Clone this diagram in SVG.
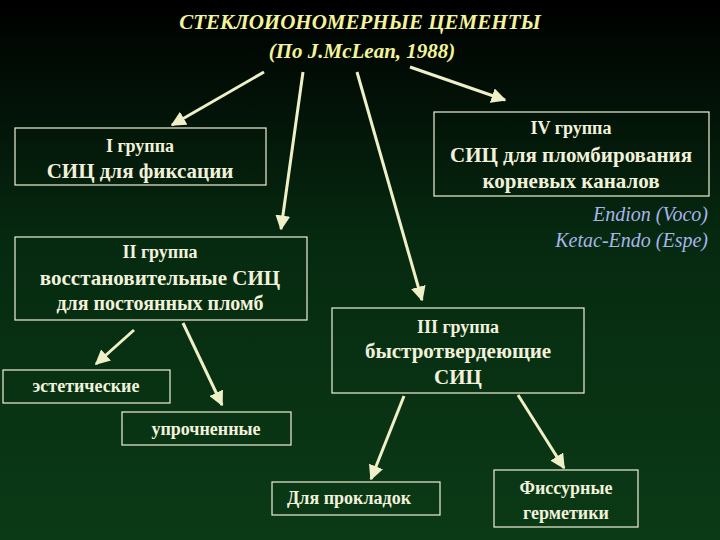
<svg xmlns="http://www.w3.org/2000/svg" width="720" height="540" viewBox="0 0 720 540" font-family="'Liberation Serif', 'Times New Roman', 'DejaVu Serif', serif">
<defs>
<linearGradient id="bg" x1="0" y1="0" x2="0" y2="1"><stop offset="0" stop-color="#000000"/><stop offset="0.45" stop-color="#062a10"/><stop offset="1" stop-color="#0b3a16"/></linearGradient>
<marker id="ah" viewBox="0 0 10 10" refX="9" refY="5" markerWidth="5" markerHeight="5" orient="auto"><path d="M0,0 L10,5 L0,10 z" fill="#f0f0c8"/></marker>
<style>
.b{fill:none;stroke:#f0f0d8;stroke-width:1.2}
.t{font-weight:bold;fill:#f2f2dc;text-anchor:middle}
.c line{stroke:#f0f0c8;stroke-width:3;marker-end:url(#ah)}
</style>
</defs>
<rect width="720" height="540" fill="url(#bg)"/>
<g id="title" class="t" style="font-style:italic;fill:#f4f49a;font-size:21px">
<text x="360" y="29">СТЕКЛОИОНОМЕРНЫЕ ЦЕМЕНТЫ</text>
<text x="362" y="58">(По J.McLean, 1988)</text>
</g>
<g class="c">
<line x1="264" y1="72" x2="172" y2="125"/>
<line x1="303" y1="72" x2="281" y2="229"/>
<line x1="357" y1="72" x2="422" y2="300"/>
<line x1="410" y1="67" x2="505" y2="100"/>
<line x1="134" y1="330" x2="96" y2="364"/>
<line x1="183" y1="323" x2="222" y2="405"/>
<line x1="404" y1="396" x2="371" y2="479"/>
<line x1="518" y1="395" x2="564" y2="468"/>
</g>
<g id="g1"><rect class="b" x="15" y="128" width="251" height="57"/>
<text class="t" x="140" y="152" font-size="18">I группа</text><text class="t" x="140" y="178" font-size="21">СИЦ для фиксации</text></g>
<g id="g4"><rect class="b" x="434" y="112" width="275" height="84"/>
<text class="t" x="571" y="134" font-size="18">IV группа</text><text class="t" x="571" y="162" font-size="21">СИЦ для пломбирования</text><text class="t" x="571" y="188" font-size="21">корневых каналов</text></g>
<g id="brands" class="t" style="font-style:italic;font-weight:normal;fill:#a9b4ec;font-size:20px;text-anchor:end">
<text x="708" y="221">Endion (Voco)</text><text x="708" y="247">Ketac-Endo (Espe)</text></g>
<g id="g2"><rect class="b" x="15" y="237" width="292" height="83"/>
<text class="t" x="160" y="258" font-size="18">II группа</text><text class="t" x="160" y="285" font-size="21">восстановительные СИЦ</text><text class="t" x="160" y="310" font-size="20">для постоянных пломб</text></g>
<g id="g3"><rect class="b" x="332" y="308" width="252" height="85"/>
<text class="t" x="458" y="333" font-size="18">III группа</text><text class="t" x="458" y="358" font-size="21">быстротвердеющие</text><text class="t" x="458" y="384" font-size="21">СИЦ</text></g>
<g id="est"><rect class="b" x="3" y="370" width="167" height="33"/><text class="t" x="86" y="392" font-size="18">эстетические</text></g>
<g id="upr"><rect class="b" x="122" y="412" width="169" height="33"/><text class="t" x="206" y="435" font-size="18">упрочненные</text></g>
<g id="pro"><rect class="b" x="272" y="482" width="168" height="33"/><text class="t" x="349" y="504" font-size="18">Для прокладок</text></g>
<g id="fis"><rect class="b" x="494" y="470" width="144" height="57"/><text class="t" x="566" y="494" font-size="18">Фиссурные</text><text class="t" x="566" y="519" font-size="18">герметики</text></g>
</svg>
